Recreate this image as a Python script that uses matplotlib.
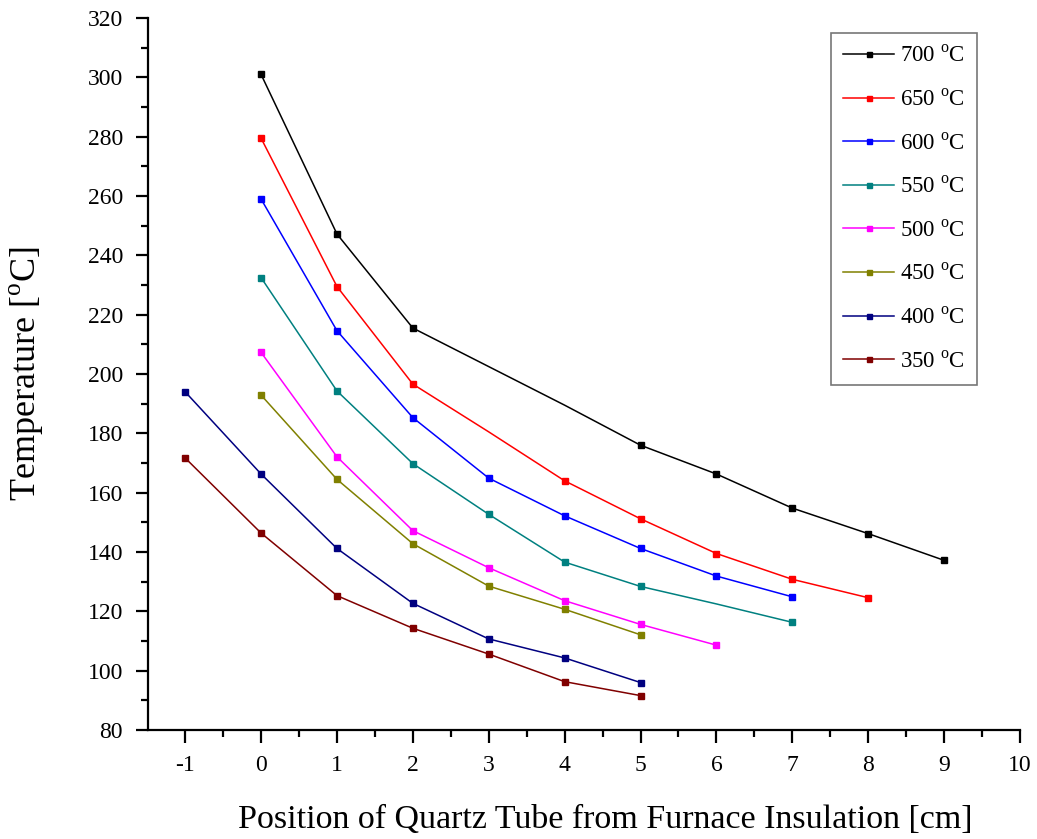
import matplotlib.pyplot as plt
from matplotlib.ticker import MultipleLocator

plt.rcParams['font.family'] = ['Liberation Serif', 'DejaVu Serif']
plt.rcParams['mathtext.fontset'] = 'custom'
plt.rcParams['mathtext.rm'] = 'Liberation Serif'

labels = ["700", "650", "600", "550", "500", "450", "400", "350"]
colors = ["#000000", "#ff0000", "#0000ff", "#008080", "#ff00ff", "#808000", "#000080", "#800000"]

x_700 = [0, 1, 2, 3, 4, 5, 6, 7, 8, 9]
t_700 = [301, 247.2, 215.5, 202.5, 189.5, 176, 166.3, 154.8, 146.2, 137.2]
x_650 = [0, 1, 2, 3, 4, 5, 6, 7, 8]
t_650 = [279.5, 229.5, 196.6, 180.5, 164, 151.2, 139.5, 130.8, 124.6]
x_600 = [0, 1, 2, 3, 4, 5, 6, 7]
t_600 = [259, 214.6, 185.3, 164.9, 152.2, 141.2, 131.9, 124.9]
x_550 = [0, 1, 2, 3, 4, 5, 6, 7]
t_550 = [232.5, 194.3, 169.8, 152.7, 136.6, 128.4, 122.5, 116.3]
x_500 = [0, 1, 2, 3, 4, 5, 6]
t_500 = [207.3, 172.1, 147.2, 134.7, 123.6, 115.6, 108.6]
x_450 = [0, 1, 2, 3, 4, 5]
t_450 = [192.9, 164.5, 142.8, 128.5, 120.7, 112.1]
x_400 = [-1, 0, 1, 2, 3, 4, 5]
t_400 = [194, 166.3, 141.2, 122.7, 110.7, 104.3, 96]
x_350 = [-1, 0, 1, 2, 3, 4, 5]
t_350 = [171.7, 146.4, 125.3, 114.3, 105.6, 96.3, 91.6]

# points where the original has no marker drawn
marks_700 = [0, 1, 2, 5, 6, 7, 8, 9]
marks_650 = [0, 1, 2, 4, 5, 6, 7, 8]
marks_550 = [0, 1, 2, 3, 4, 5, 7]

xs = [x_700, x_650, x_600, x_550, x_500, x_450, x_400, x_350]
ts = [t_700, t_650, t_600, t_550, t_500, t_450, t_400, t_350]
marks = [marks_700, marks_650, None, marks_550, None, None, None, None]

fig = plt.figure(figsize=(10.37, 8.39), dpi=100)
ax = fig.add_axes([0.1427, 0.1299, 0.8409, 0.8486])

for x, t, c, lab, m in zip(xs, ts, colors, labels, marks):
    ax.plot(x, t, color=c, lw=1.1, marker='s', ms=4, markevery=m,
            label=lab + r" $^{\mathrm{o}}$C")

ax.set_xlim(-1.49, 10)
ax.set_ylim(80, 320)
ax.set_xticks(range(-1, 11))
ax.set_xticklabels([str(i) for i in range(-1, 11)])
ax.set_yticks(range(80, 321, 20))
ax.xaxis.set_minor_locator(MultipleLocator(0.5))
ax.yaxis.set_minor_locator(MultipleLocator(10))

for s in ['top', 'right']:
    ax.spines[s].set_visible(False)
for s in ['left', 'bottom']:
    ax.spines[s].set_linewidth(1.6)

ax.tick_params(which='major', direction='out', length=9, width=1.6, labelsize=17, pad=9)
ax.tick_params(which='minor', direction='out', length=5, width=1.6)

ax.set_xlabel("Position of Quartz Tube from Furnace Insulation [cm]", fontsize=24.5)
ax.xaxis.set_label_coords(0.524, -0.104)
ax.set_ylabel(r"Temperature [$^{\mathrm{o}}$C]", fontsize=26)
ax.yaxis.set_label_coords(-0.117, 0.5)

leg = ax.legend(loc='upper right', bbox_to_anchor=(0.9507, 0.979), borderaxespad=0,
                fontsize=16.5, fancybox=False, edgecolor='#555555', handlelength=2.2,
                handletextpad=0.25, labelspacing=0.97, borderpad=0.55, markerscale=0.9)
leg.get_frame().set_linewidth(1.2)

fig.savefig("out.png", dpi=100)
